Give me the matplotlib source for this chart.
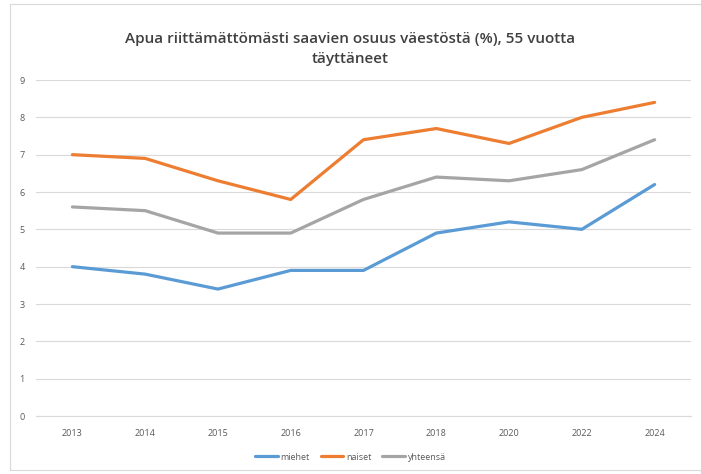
import matplotlib.pyplot as plt
from matplotlib.patches import Rectangle

# Data
years = ["2013", "2014", "2015", "2016", "2017", "2018", "2020", "2022", "2024"]
miehet = [4.0, 3.8, 3.4, 3.9, 3.9, 4.9, 5.2, 5.0, 6.2]
naiset = [7.0, 6.9, 6.3, 5.8, 7.4, 7.7, 7.3, 8.0, 8.4]
yhteensa = [5.6, 5.5, 4.9, 4.9, 5.8, 6.4, 6.3, 6.6, 7.4]

plt.rcParams["font.family"] = ["Open Sans", "DejaVu Sans"]

W, H = 701, 474
fig = plt.figure(figsize=(W / 100, H / 100), dpi=100)

# chart border like in the Excel export
fig.patches.append(Rectangle((10 / W, 4 / H), 700 / W, 466 / H, transform=fig.transFigure,
                             fill=False, edgecolor="#d9d9d9", linewidth=0.8))

left, right = 36 / W, 691 / W
bottom, top = 1 - 416 / H, 1 - 80 / H
ax = fig.add_axes([left, bottom, right - left, top - bottom])

x = range(len(years))
ax.plot(x, miehet, color="#5B9BD5", linewidth=2.3, label="miehet", solid_capstyle="round")
ax.plot(x, naiset, color="#ED7D31", linewidth=2.3, label="naiset", solid_capstyle="round")
ax.plot(x, yhteensa, color="#A5A5A5", linewidth=2.3, label="yhteensä", solid_capstyle="round")

ax.set_xlim(-0.5, len(years) - 0.5)
ax.set_ylim(0, 9)
ax.set_yticks(range(10))
ax.set_xticks(list(x))
ax.set_xticklabels(years)
ax.grid(axis="y", color="#d9d9d9", linewidth=0.8)
ax.set_axisbelow(True)
for s in ["top", "right", "left"]:
    ax.spines[s].set_visible(False)
ax.spines["bottom"].set_color("#d9d9d9")
ax.tick_params(axis="both", length=0, labelsize=6.5, labelcolor="#595959")
ax.tick_params(axis="y", pad=8)
ax.tick_params(axis="x", pad=9)

fig.text(0.5, 1 - 49 / H, "Apua riittämättömästi saavien osuus väestöstä (%), 55 vuotta\ntäyttäneet",
         ha="center", va="center", fontsize=11, fontweight="semibold", color="#404040",
         linespacing=1.55)

fig.legend(loc="center", bbox_to_anchor=(0.5, 1 - 457 / H), ncol=3, frameon=False,
           fontsize=6.5, labelcolor="#595959", handlelength=2.5, columnspacing=1.2,
           handletextpad=0.3)

fig.savefig("out.png", dpi=100)
